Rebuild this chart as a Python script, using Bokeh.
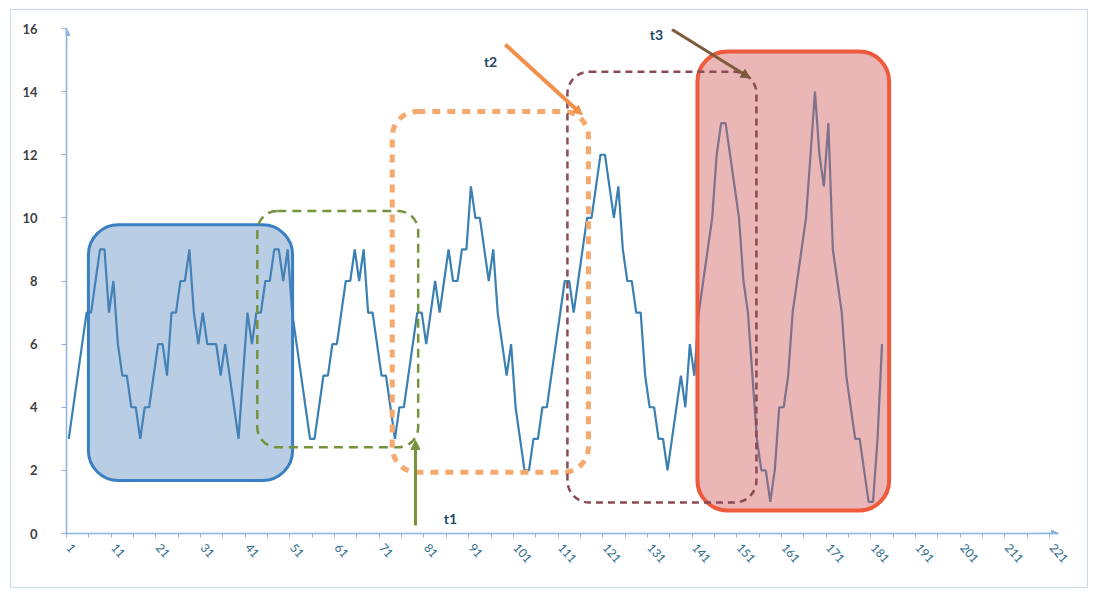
import math
from bokeh.plotting import figure
from bokeh.models import Range1d, FixedTicker, BoxAnnotation, Arrow, NormalHead
from bokeh.core.properties import value
from bokeh.embed import file_html
from bokeh.resources import INLINE

# ---- data -------------------------------------------------------------
values = [3, 4, 5, 6, 7, 7, 8, 9, 9, 7,
          8, 6, 5, 5, 4, 4, 3, 4, 4, 5,
          6, 6, 5, 7, 7, 8, 8, 9, 7, 6,
          7, 6, 6, 6, 5, 6, 5, 4, 3, 5,
          7, 6, 7, 7, 8, 8, 9, 9, 8, 9,
          7, 6, 5, 4, 3, 3, 4, 5, 5, 6,
          6, 7, 8, 8, 9, 8, 9, 7, 7, 6,
          5, 5, 4, 3, 4, 4, 5, 6, 7, 7,
          6, 7, 8, 7, 8, 9, 8, 8, 9, 9,
          11, 10, 10, 9, 8, 9, 7, 6, 5, 6,
          4, 3, 2, 2, 3, 3, 4, 4, 5, 6,
          7, 8, 8, 7, 8, 9, 10, 10, 11, 12,
          12, 11, 10, 11, 9, 8, 8, 7, 7, 5,
          4, 4, 3, 3, 2, 3, 4, 5, 4, 6,
          5, 7, 8, 9, 10, 12, 13, 13, 12, 11,
          10, 8, 7, 5, 3, 2, 2, 1, 2, 4,
          4, 5, 7, 8, 9, 10, 12, 14, 12, 11,
          13, 9, 8, 7, 5, 4, 3, 3, 2, 1,
          1, 3, 6]
categories = list(range(1, len(values) + 1))

x_tick_positions = list(range(1, 222, 10))
x_tick_labels = [str(v) for v in x_tick_positions]
x_minor_ticks = [0.5 + 5 * k for k in range(45)]
y_ticks = list(range(0, 17, 2))

# highlighted regions (category / value bounds)
region_names = ["blue", "red", "green", "orange", "maroon"]
region_left = [5.4, 141.7, 43.2, 73.4, 112.6]
region_right = [51.1, 184.6, 79.2, 117.3, 154.9]
region_bottom = [1.68, 0.73, 2.73, 1.94, 0.98]
region_top = [9.78, 15.27, 10.22, 13.37, 14.63]

# t1..t3 pointers
arrow_labels = ["t1", "t2", "t3"]
arrow_x_start = [78.6, 98.7, 136.0]
arrow_y_start = [0.25, 15.49, 15.97]
arrow_x_end = [78.6, 115.9, 153.5]
arrow_y_end = [2.95, 13.27, 14.43]
label_x = [86.4, 95.4, 132.5]
label_y = [0.48, 14.95, 15.8]

# ---- styles -----------------------------------------------------------
AXIS = "#8db4e2"
region_style = {
    "blue": dict(fill_color="#4f81bd", fill_alpha=0.4, line_color="#3a7fc1",
                 line_alpha=1, line_width=3, line_dash="solid", border_radius=30),
    "red": dict(fill_color="#d0605e", fill_alpha=0.45, line_color="#ee5a3c",
                line_alpha=1, line_width=4, line_dash="solid", border_radius=30),
    "green": dict(fill_color=None, line_color="#76923c", line_alpha=1,
                  line_width=2.5, line_dash="9 6", border_radius=20),
    "orange": dict(fill_color=None, line_color="#f5a96e", line_alpha=1,
                   line_width=5, line_dash="8 7", border_radius=25),
    "maroon": dict(fill_color=None, line_color="#8c4a55", line_alpha=1,
                   line_width=2.5, line_dash="7 5", border_radius=22),
}
arrow_colors = ["#77933c", "#f0904a", "#7f5a3a"]
arrow_widths = [3, 4, 3]

p = figure(width=1078, height=579,
           x_range=Range1d(0.5, 222.5), y_range=Range1d(0, 16),
           output_backend="svg", toolbar_location=None,
           min_border_left=55, min_border_right=31,
           min_border_top=18, min_border_bottom=56)
p.outline_line_color = None
p.xgrid.grid_line_color = None
p.ygrid.grid_line_color = None
p.styles = {"border": "1px solid #c6d9f0", "margin-left": "10px",
            "margin-top": "9px"}

p.line(categories, values, line_color="#3b80b3", line_width=2.2)

for name, l, r, b, t in zip(region_names, region_left, region_right,
                            region_bottom, region_top):
    p.add_layout(BoxAnnotation(left=l, right=r, bottom=b, top=t,
                               **region_style[name]))

for xs, ys, xe, ye, c, w in zip(arrow_x_start, arrow_y_start, arrow_x_end,
                                arrow_y_end, arrow_colors, arrow_widths):
    p.add_layout(Arrow(x_start=xs, y_start=ys, x_end=xe, y_end=ye,
                       line_color=c, line_width=w,
                       end=NormalHead(size=9, fill_color=c, line_color=c)))

p.text(x=label_x, y=label_y, text=arrow_labels, text_font=value("Lato"),
       text_font_style="bold", text_font_size="14px", text_color="#1f4a6a",
       text_align="center", text_baseline="middle")

# axis arrow heads
p.add_layout(Arrow(x_start=218, y_start=0, x_end=222.5, y_end=0,
                   line_color=AXIS, line_width=1.5,
                   end=NormalHead(size=7, fill_color=AXIS, line_color=AXIS)))
p.add_layout(Arrow(x_start=0.5, y_start=15.5, x_end=0.5, y_end=16,
                   line_color=AXIS, line_width=1.5,
                   end=NormalHead(size=7, fill_color=AXIS, line_color=AXIS)))

xa = p.xaxis[0]
xa.ticker = FixedTicker(ticks=x_tick_positions, minor_ticks=x_minor_ticks)
xa.major_label_overrides = dict(zip(x_tick_positions, x_tick_labels))
xa.major_tick_out = 0
xa.major_tick_in = 0
xa.minor_tick_out = 4
xa.minor_tick_in = 0
xa.minor_tick_line_color = AXIS
xa.axis_line_color = AXIS
xa.axis_line_width = 1.5
xa.major_label_orientation = -0.85
xa.major_label_standoff = 8
xa.major_label_text_font = "Lato"
xa.major_label_text_font_size = "12px"
xa.major_label_text_color = "#2f6d8f"

ya = p.yaxis[0]
ya.ticker = FixedTicker(ticks=y_ticks)
ya.major_tick_out = 5
ya.major_tick_in = 0
ya.minor_tick_out = 0
ya.minor_tick_in = 0
ya.major_tick_line_color = AXIS
ya.axis_line_color = AXIS
ya.axis_line_width = 1.5
ya.major_label_standoff = 24
ya.major_label_text_font = "Lato"
ya.major_label_text_font_style = "bold"
ya.major_label_text_font_size = "13px"
ya.major_label_text_color = "#404040"

open("out.html", "w").write(file_html(p, INLINE))
